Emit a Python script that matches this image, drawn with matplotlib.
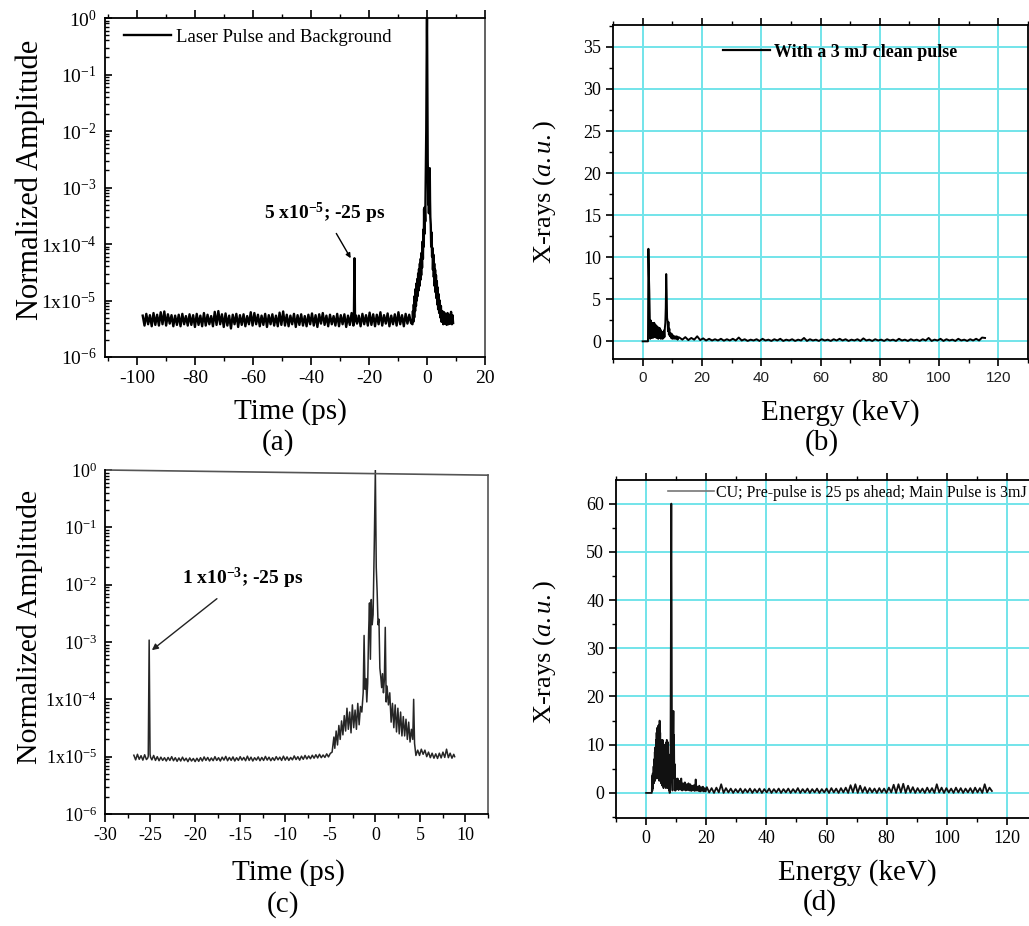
import numpy as np
import matplotlib
matplotlib.use("Agg")
import matplotlib.pyplot as plt
from matplotlib.ticker import FixedLocator, FixedFormatter, MultipleLocator, LogLocator, NullFormatter
from matplotlib.lines import Line2D

plt.rcParams.update({
    "font.family": ["Liberation Serif", "DejaVu Serif"],
    "mathtext.fontset": "custom",
    "mathtext.rm": "Liberation Serif",
    "mathtext.it": "Liberation Serif:italic",
    "mathtext.bf": "Liberation Serif:bold",
    "axes.unicode_minus": False,
})

# ---------------- data ----------------
# (a) laser pulse and background, background in units of 1e-6
a_bg = [
    5.4, 3.6, 5.8, 3.8, 5.5, 3.5, 6.0, 3.7, 5.6, 3.6,
    6.2, 3.8, 6.4, 3.6, 5.7, 3.9, 5.5, 3.5, 5.4, 3.7,
    5.6, 3.5, 5.8, 3.8, 5.3, 3.6, 5.7, 3.7, 5.5, 3.4,
    5.8, 3.7, 5.4, 3.5, 6.0, 3.6, 5.6, 3.8, 5.3, 3.5,
    6.3, 3.7, 6.5, 3.8, 5.7, 3.4, 5.9, 3.6, 5.4, 3.2,
    5.6, 3.8, 5.8, 3.4, 5.5, 3.7, 5.7, 3.5, 5.3, 3.8,
    6.2, 3.6, 6.0, 3.8, 5.6, 3.5, 5.4, 3.7, 5.8, 3.4,
    5.5, 3.8, 5.7, 3.6, 5.4, 3.5, 6.1, 3.7, 6.4, 3.6,
    5.6, 3.5, 5.4, 3.8, 5.8, 3.4, 5.5, 3.7, 5.7, 3.6,
    5.3, 3.5, 5.6, 3.8, 5.9, 3.6, 5.5, 3.4, 5.7, 3.9,
    6.0, 3.7, 5.4, 3.5, 5.6, 3.8, 5.3, 3.6, 5.8, 3.5,
    5.5, 3.8, 5.7, 3.4, 5.4, 3.7, 6.0, 3.6, 5.6, 3.9,
    5.4, 3.5, 5.8, 3.8, 5.5, 3.6, 6.1, 3.7, 5.7, 3.5,
    5.6, 3.8, 6.2, 3.6, 5.5, 3.9, 5.9, 3.5, 5.4, 3.8,
    5.7, 3.6, 6.2, 3.8, 5.5, 3.5, 5.8, 3.9, 5.6, 4.0,
]
a_bg_start, a_bg_end = -98.0, -5.5
a_spike_t = [-25.2, -25.0, -24.8]
a_spike_amp = [4.5e-6, 5.6e-5, 4.3e-6]
a_peak_t = [-5.0, -4.85, -4.7, -4.55, -4.4, -4.25, -4.1, -3.95, -3.8, -3.65,
            -3.5, -3.35, -3.2, -3.05, -2.9, -2.75, -2.6, -2.45, -2.3, -2.15,
            -2.0, -1.85, -1.7, -1.55, -1.4, -1.25, -1.1, -1.0, -0.9, -0.75,
            -0.6, -0.45, -0.35, -0.25, -0.15, -0.05, 0.0, 0.05, 0.15, 0.25,
            0.35, 0.45, 0.55, 0.65, 0.75, 0.85, 0.95, 1.05, 1.15, 1.3,
            1.45, 1.6, 1.75, 1.9, 2.05, 2.2, 2.35, 2.5, 2.65, 2.8,
            2.95, 3.1, 3.25, 3.4, 3.55, 3.7, 3.85, 4.0, 4.2, 4.4,
            4.6, 4.8, 5.0, 5.3, 5.6, 5.9, 6.2, 6.5, 6.8, 7.1,
            7.4, 7.7, 8.0, 8.3, 8.6, 8.8, 9.0]
a_peak_amp = [3.8e-6, 6.5e-6, 4.2e-6, 8.5e-6, 5.0e-6, 1.2e-5, 6.5e-6, 1.6e-5, 8e-6, 2.0e-5,
              1.0e-5, 2.4e-5, 1.2e-5, 3.0e-5, 1.5e-5, 3.6e-5, 1.8e-5, 4.5e-5, 2.3e-5, 5.5e-5,
              2.8e-5, 7e-5, 3.8e-5, 1.1e-4, 5.5e-5, 1.8e-4, 9e-5, 4.2e-4, 1.5e-4, 4.5e-4,
              2.5e-4, 1.2e-3, 2.5e-3, 1.0e-2, 0.1, 0.6, 1.0, 0.45, 3e-2, 3e-3,
              1.5e-3, 5e-4, 9e-4, 3.5e-4, 6e-4, 1.2e-3, 2.2e-3, 6e-4, 3e-4, 2.2e-4,
              9e-5, 1.6e-4, 6e-5, 8.5e-5, 3.5e-5, 6.5e-5, 2.6e-5, 4.5e-5, 1.8e-5, 3.5e-5,
              1.4e-5, 2.8e-5, 1.1e-5, 2.2e-5, 8.5e-6, 1.7e-5, 7e-6, 1.3e-5, 6e-6, 1.0e-5,
              5e-6, 8e-6, 4.2e-6, 6.5e-6, 3.8e-6, 6.2e-6, 3.9e-6, 5.8e-6, 3.7e-6, 6.0e-6,
              3.8e-6, 5.6e-6, 3.9e-6, 6.3e-6, 3.8e-6, 5.5e-6, 4.0e-6]

# (c) pulse with pre-pulse, background in units of 1e-6
c_bg = [
    10.6, 8.8, 11.0, 9.0, 10.4, 8.7, 10.8, 8.9, 10.2, 11.0,
    8.8, 10.5, 8.6, 10.0, 8.5, 9.8, 8.6, 9.6, 8.4, 9.7,
    8.6, 10.0, 8.5, 9.6, 8.3, 9.5, 8.4, 9.8, 8.5, 9.4,
    8.2, 9.5, 8.4, 9.3, 8.2, 9.4, 8.3, 9.6, 8.4, 9.9,
    8.6, 9.7, 8.4, 9.5, 8.5, 10.0, 8.6, 9.6, 8.4, 9.8,
    8.7, 10.1, 8.5, 9.7, 8.6, 9.9, 8.4, 9.6, 8.6, 10.0,
    8.7, 9.7, 8.5, 10.2, 8.6, 9.8, 8.4, 9.6, 8.7, 9.9,
    8.5, 9.7, 8.6, 10.1, 8.7, 9.8, 8.5, 9.6, 8.6, 10.0,
    8.8, 9.8, 8.6, 10.2, 8.7, 9.9, 8.6, 9.7, 8.8, 10.3,
    8.9, 10.0, 8.7, 10.2, 9.0, 10.5, 9.1, 10.3, 9.2, 10.6,
    9.4, 10.8, 9.5, 11.0, 9.6, 10.7, 9.7, 11.2, 9.9, 11.4,
]
c_bg_start, c_bg_end = -26.8, -5.0
c_spike_t = [-25.25, -25.1, -24.95]
c_spike_amp = [9.5e-6, 1.08e-3, 9.8e-6]
c_peak_t = [-4.8, -4.6, -4.5, -4.35, -4.2, -4.05, -3.9, -3.75, -3.6, -3.45,
            -3.3, -3.15, -3.0, -2.85, -2.7, -2.55, -2.4, -2.25, -2.1, -1.95,
            -1.8, -1.65, -1.5, -1.35, -1.25, -1.15, -1.05, -0.95, -0.85, -0.75,
            -0.65, -0.55, -0.45, -0.35, -0.25, -0.12, 0.0, 0.1, 0.2, 0.3,
            0.4, 0.5, 0.6, 0.7, 0.8, 0.9, 1.0, 1.1, 1.2, 1.3,
            1.45, 1.6, 1.75, 1.9, 2.05, 2.2, 2.35, 2.5, 2.65, 2.8,
            2.95, 3.1, 3.25, 3.4, 3.55, 3.7, 3.85, 4.0, 4.15, 4.25,
            4.35, 4.5, 4.7, 4.9, 5.1, 5.3, 5.5, 5.7, 5.9, 6.1,
            6.3, 6.5, 6.7, 6.9, 7.1, 7.3, 7.5, 7.7, 7.9, 8.1,
            8.3, 8.5, 8.7, 8.8]
c_peak_amp = [1.2e-5, 2.2e-5, 1.4e-5, 2.8e-5, 1.6e-5, 3.5e-5, 2.0e-5, 4.2e-5, 2.4e-5, 5.2e-5,
              2.8e-5, 7.0e-5, 3.0e-5, 6.0e-5, 2.6e-5, 8.0e-5, 3.2e-5, 6.5e-5, 3.0e-5, 8.5e-5,
              3.6e-5, 7.5e-5, 6.0e-5, 1.3e-4, 1.3e-3, 1.5e-4, 2.3e-4, 9e-5, 1.9e-4, 1.4e-3,
              4.8e-3, 5e-4, 5.5e-3, 2.0e-3, 3e-3, 0.05, 1.0, 0.02, 7.5e-3, 2.0e-3,
              2.5e-3, 3.5e-4, 2.5e-4, 1.6e-4, 2.8e-4, 1.3e-4, 2.2e-4, 1.8e-3, 9e-5, 1.7e-4,
              8e-5, 1.3e-4, 4.0e-5, 8.5e-5, 3.2e-5, 8.0e-5, 2.7e-5, 7.0e-5, 2.5e-5, 6.0e-5,
              2.3e-5, 5.0e-5, 2.3e-5, 4.5e-5, 2.0e-5, 4.0e-5, 1.8e-5, 3.0e-5, 2.0e-5, 1.0e-4,
              1.7e-5, 1.05e-5, 1.3e-5, 1.05e-5, 1.35e-5, 1.1e-5, 1.3e-5, 1.0e-5, 1.2e-5, 9.6e-6,
              1.15e-5, 9.4e-6, 1.12e-5, 9.3e-6, 1.15e-5, 9.5e-6, 1.2e-5, 9.7e-6, 1.35e-5, 9.6e-6,
              1.15e-5, 9.4e-6, 1.1e-5, 1.0e-5]

# (b) X-ray spectrum, clean pulse
b_head_e = [0.0, 1.8, 1.95, 2.1, 2.25, 2.4, 2.55, 2.7, 2.85, 3.0,
            3.15, 3.3, 3.45, 3.6, 3.75, 3.9, 4.05, 4.2, 4.35, 4.5,
            4.65, 4.8, 4.95, 5.1, 5.25, 5.4, 5.55, 5.7, 5.85, 6.0,
            6.15, 6.3, 6.45, 6.6, 6.75, 6.9, 7.05, 7.2, 7.35, 7.5,
            7.65, 7.8, 7.95, 8.1, 8.25, 8.4, 8.55, 8.7, 8.85, 9.0,
            9.2, 9.4, 9.6, 9.8, 10.0, 10.3, 10.6, 10.9, 11.2, 11.5,
            11.8, 12.1]
b_head_v = [0, 0, 11.0, 8.0, 6.0, 3.0, 0.3, 2.5, 0.4, 2.0,
            0.5, 2.2, 0.4, 2.1, 0.6, 2.2, 0.5, 2.0, 0.6, 1.9,
            0.4, 1.8, 0.5, 1.7, 0.3, 1.6, 0.5, 1.6, 0.4, 1.4,
            0.3, 1.2, 0.5, 1.1, 0.3, 1.0, 0.4, 1.3, 0.5, 1.6,
            2.2, 4.0, 8.0, 6.0, 2.8, 2.4, 1.2, 2.3, 0.8, 1.5,
            0.6, 1.0, 0.4, 0.9, 0.3, 0.7, 0.3, 0.6, 0.3, 0.6,
            0.2, 0.5]
b_tail_start, b_tail_end = 12.4, 115.5
b_tail_v = [
    0.45, 0.2, 0.5, 0.15, 0.4, 0.2, 0.6, 0.15, 0.35, 0.1,
    0.3, 0.1, 0.25, 0.1, 0.3, 0.08, 0.25, 0.1, 0.3, 0.1,
    0.45, 0.1, 0.25, 0.05, 0.2, 0.1, 0.25, 0.05, 0.3, 0.1,
    0.2, 0.05, 0.25, 0.1, 0.3, 0.05, 0.2, 0.1, 0.25, 0.05,
    0.2, 0.1, 0.4, 0.05, 0.25, 0.1, 0.2, 0.05, 0.25, 0.1,
    0.2, 0.05, 0.25, 0.1, 0.3, 0.1, 0.25, 0.05, 0.2, 0.1,
    0.25, 0.05, 0.35, 0.1, 0.2, 0.05, 0.25, 0.1, 0.2, 0.05,
    0.25, 0.1, 0.2, 0.05, 0.3, 0.1, 0.2, 0.05, 0.25, 0.1,
    0.2, 0.05, 0.25, 0.1, 0.4, 0.05, 0.2, 0.1, 0.3, 0.05,
    0.25, 0.1, 0.2, 0.05, 0.3, 0.1, 0.2, 0.05, 0.25, 0.1,
    0.3, 0.1, 0.45, 0.4,
]

# (d) X-ray spectrum, with pre-pulse
d_head_e = [0.0, 1.8, 1.9,
            2.0, 2.1, 2.2, 2.3, 2.4, 2.5, 2.6, 2.7, 2.8, 2.9,
            3.0, 3.1, 3.2, 3.3, 3.4, 3.5, 3.6, 3.7, 3.8, 3.9,
            4.0, 4.1, 4.2, 4.3, 4.4, 4.5, 4.6, 4.7, 4.8, 4.9,
            5.0, 5.1, 5.2, 5.3, 5.4, 5.5, 5.6, 5.7, 5.8, 5.9,
            6.0, 6.1, 6.2, 6.3, 6.4, 6.5, 6.6, 6.7, 6.8, 6.9,
            7.0, 7.1, 7.2, 7.3, 7.4, 7.5, 7.6, 7.7, 7.8, 7.9,
            8.0, 8.1, 8.2, 8.3, 8.4, 8.5, 8.6, 8.7, 8.8, 8.9,
            9.0, 9.1, 9.2, 9.3, 9.4, 9.5, 9.6, 9.7, 9.8, 9.9,
            10.2, 10.5, 10.8, 11.1, 11.4, 11.7, 12.0, 12.3, 12.6, 12.9,
            13.2, 13.5, 13.8, 14.1, 14.4, 14.7, 15.0, 15.3, 15.6, 15.9,
            16.2, 16.5, 16.8, 17.1, 17.4, 17.7, 18.0, 18.3, 18.6, 18.9,
            19.2, 19.5, 19.8]
d_head_v = [0, 0, 0,
            3.5, 0.5, 4.0, 1.0, 3.0, 5.5, 2.0, 7.0, 3.0, 8.5,
            2.5, 9.5, 4.0, 11.0, 3.0, 12.5, 5.0, 13.5, 4.0, 12.0,
            3.0, 14.0, 5.0, 13.0, 2.5, 15.0, 4.0, 12.5, 3.0, 11.0,
            2.0, 10.5, 3.5, 9.5, 1.5, 11.0, 3.0, 9.0, 1.0, 8.5,
            2.5, 10.0, 1.5, 8.0, 2.0, 9.5, 1.0, 10.5, 3.0, 11.0,
            2.0, 9.0, 1.0, 10.5, 2.5, 8.0, 0.5, 6.0, 0.0, 0.0,
            1.0, 4.0, 26.0, 44.0, 60.0, 40.0, 12.0, 3.0, 0.5, 6.0,
            13.0, 17.0, 8.0, 12.0, 3.0, 6.0, 0.5, 3.0, 0.5, 3.0,
            0.8, 3.0, 0.6, 2.5, 0.7, 3.0, 0.5, 2.0, 0.6, 2.2,
            0.5, 1.8, 0.6, 2.0, 0.5, 1.8, 0.4, 1.5, 0.5, 1.6,
            0.4, 2.8, 0.5, 1.3, 0.4, 1.5, 0.3, 1.2, 0.4, 1.3,
            0.3, 1.0, 0.3]
d_tail_start, d_tail_end = 20.2, 115.0
d_tail_v = [
    1.2, 0.1, 1.0, 0.0, 1.1, 0.1, 1.8, 0.0, 1.0, 0.1,
    0.9, 0.0, 0.8, 0.1, 0.9, 0.0, 0.8, 0.1, 0.9, 0.0,
    0.8, 0.1, 0.9, 0.0, 0.8, 0.1, 0.9, 0.0, 0.8, 0.1,
    0.9, 0.0, 0.8, 0.1, 0.9, 0.0, 0.8, 0.1, 1.0, 0.0,
    0.8, 0.1, 0.9, 0.0, 0.8, 0.1, 0.9, 0.0, 0.8, 0.1,
    0.9, 0.0, 1.0, 0.1, 0.9, 0.0, 1.0, 0.1, 1.1, 0.0,
    1.6, 0.1, 1.8, 0.0, 1.5, 0.1, 1.2, 0.0, 1.0, 0.1,
    0.9, 0.0, 1.0, 0.1, 0.9, 0.0, 1.1, 0.1, 1.7, 0.0,
    1.8, 0.1, 1.9, 0.0, 1.5, 0.1, 1.2, 0.0, 1.0, 0.1,
    0.9, 0.0, 1.1, 0.1, 1.0, 0.0, 1.8, 0.1, 1.1, 0.0,
    1.0, 0.1, 0.9, 0.0, 1.1, 0.1, 1.0, 0.0, 0.9, 0.1,
    1.0, 0.0, 1.1, 0.1, 1.0, 0.0, 1.8, 0.1, 1.1, 0.4,
]

log_ticks = [1e-6, 1e-5, 1e-4, 1e-3, 1e-2, 1e-1, 1e0]
log_tick_labels = [r"10$^{-6}$", r"1x10$^{-5}$", r"1x10$^{-4}$", r"10$^{-3}$",
                   r"10$^{-2}$", r"10$^{-1}$", r"10$^{0}$"]
a_xticks = [-100, -80, -60, -40, -20, 0, 20]
c_xticks = [-30, -25, -20, -15, -10, -5, 0, 5, 10]
b_yticks = [0, 5, 10, 15, 20, 25, 30, 35]
d_yticks = [0, 10, 20, 30, 40, 50, 60]
e_xticks = [0, 20, 40, 60, 80, 100, 120]

# ---------------- assemble series ----------------
def assemble(parts_t, parts_v):
    t = np.concatenate([np.asarray(p, float) for p in parts_t])
    v = np.concatenate([np.asarray(p, float) for p in parts_v])
    o = np.argsort(t, kind="stable")
    return t[o], v[o]

ta, ya = assemble([np.linspace(a_bg_start, a_bg_end, len(a_bg)), a_spike_t, a_peak_t],
                  [np.array(a_bg) * 1e-6, a_spike_amp, a_peak_amp])
tc, yc = assemble([np.linspace(c_bg_start, c_bg_end, len(c_bg)), c_spike_t, c_peak_t],
                  [np.array(c_bg) * 1e-6, c_spike_amp, c_peak_amp])
eb = np.concatenate([b_head_e, np.linspace(b_tail_start, b_tail_end, len(b_tail_v))])
vb = np.concatenate([b_head_v, b_tail_v])
ed = np.concatenate([d_head_e, np.linspace(d_tail_start, d_tail_end, len(d_tail_v))])
vd = np.concatenate([d_head_v, d_tail_v])

# ---------------- figure ----------------
W, H = 1029, 926
fig = plt.figure(figsize=(W / 100, H / 100), dpi=100)

def rect(l, t, r, b):
    return [l / W, 1 - b / H, (r - l) / W, (b - t) / H]

def ftext(x, y, s, **kw):
    fig.text(x / W, 1 - y / H, s, ha="center", va="center", **kw)

GRID = "#72e4ea"

def log_axis(ax, tick_size):
    ax.set_yscale("log")
    ax.set_ylim(1e-6, 1.0)
    ax.yaxis.set_major_locator(FixedLocator(log_ticks))
    ax.yaxis.set_major_formatter(FixedFormatter(log_tick_labels))
    ax.yaxis.set_minor_locator(LogLocator(base=10, subs=np.arange(2, 10)))
    ax.yaxis.set_minor_formatter(NullFormatter())
    ax.tick_params(axis="y", which="both", direction="in", labelsize=tick_size, pad=6)
    ax.tick_params(axis="y", which="major", length=5, width=1.2)
    ax.tick_params(axis="y", which="minor", length=3, width=1.0)

# ---- (a) ----
ax = fig.add_axes(rect(105, 18, 485, 357))
ax.plot(ta, ya, color="black", lw=1.7, label="Laser Pulse and Background")
log_axis(ax, 14)
ax.set_xlim(-111, 20)
ax.xaxis.set_major_locator(FixedLocator(a_xticks))
ax.xaxis.set_minor_locator(MultipleLocator(10))
ax.tick_params(axis="x", which="both", direction="out", top=True, labelsize=14)
ax.tick_params(axis="x", which="major", length=6, width=1.2)
ax.tick_params(axis="x", which="minor", length=3, width=1.0)
for s in ax.spines.values():
    s.set_linewidth(1.3)
ax.spines["right"].set_color("#555555")
ax.legend(loc="center left", bbox_to_anchor=(0.05, 0.944), frameon=False,
          handlelength=2.5, handletextpad=0.3, borderaxespad=0, borderpad=0,
          prop={"size": 13.5})
ax.annotate(r"5 x10$^{\mathbf{-5}}$; -25 ps", xy=(-26.3, 5.6e-5), xytext=(-35.3, 3.5e-4),
            ha="center", va="center", fontsize=14, fontweight="bold",
            arrowprops=dict(arrowstyle="-|>", color="black", lw=1.0,
                            shrinkA=4, shrinkB=0, mutation_scale=7))
ftext(30, 180, "Normalized Amplitude", fontsize=22, rotation=90)
ftext(290, 412, "Time (ps)", fontsize=21)
ftext(278, 443, "(a)", fontsize=21)

# ---- (b) ----
ax = fig.add_axes(rect(613, 25, 1028, 359))
ax.plot(eb, vb, color="black", lw=1.4)
ax.set_xlim(-10, 130)
ax.set_ylim(-2.1, 37.6)
ax.xaxis.set_major_locator(FixedLocator(e_xticks))
ax.xaxis.set_minor_locator(MultipleLocator(10))
ax.yaxis.set_major_locator(FixedLocator(b_yticks))
ax.yaxis.set_minor_locator(MultipleLocator(2.5))
ax.set_axisbelow(True)
ax.grid(True, which="major", color=GRID, lw=1.4)
ax.tick_params(which="both", direction="out", top=True)
ax.tick_params(which="major", length=5, width=1.2)
ax.tick_params(which="minor", length=3, width=1.0)
ax.tick_params(axis="y", labelsize=13)
ax.tick_params(axis="x", labelsize=11, labelcolor="#222222")
for lab in ax.get_xticklabels():
    lab.set_fontfamily("Liberation Sans")
for s in ax.spines.values():
    s.set_linewidth(1.3)
ax.legend(handles=[Line2D([], [], color="black", lw=1.6)], labels=["With a 3 mJ clean pulse"],
          loc="center left", bbox_to_anchor=(0.265, 0.919), frameon=False,
          handlelength=2.6, handletextpad=0.25, borderaxespad=0, borderpad=0,
          prop={"size": 13, "weight": "bold"})
ftext(545, 192, r"X-rays ($a.u.$)", fontsize=19, rotation=90)
ftext(840, 413, "Energy (keV)", fontsize=21)
ftext(822, 443, "(b)", fontsize=21)

# ---- (c) ----
ax = fig.add_axes(rect(105, 470, 488, 814))
ax.plot(tc, yc, color="#262626", lw=1.1)
log_axis(ax, 13)
ax.set_xlim(-30, 12.5)
ax.xaxis.set_major_locator(FixedLocator(c_xticks))
ax.xaxis.set_minor_locator(MultipleLocator(2.5))
ax.tick_params(axis="x", which="both", direction="out", labelsize=13)
ax.tick_params(axis="x", which="major", length=6, width=1.2)
ax.tick_params(axis="x", which="minor", length=3, width=1.0)
ax.spines["top"].set_visible(False)
ax.spines["right"].set_visible(False)
ax.spines["left"].set_linewidth(1.3)
ax.spines["bottom"].set_linewidth(1.3)
ax.plot([0, 1], [1, 0.985], transform=ax.transAxes, color="#555555", lw=1.2, clip_on=False)
ax.plot([1, 1], [0, 0.985], transform=ax.transAxes, color="#555555", lw=1.2, clip_on=False)
ax.annotate(r"1 x10$^{\mathbf{-3}}$; -25 ps", xy=(-24.8, 7.2e-4), xytext=(-14.7, 1.3e-2),
            ha="center", va="center", fontsize=14, fontweight="bold",
            arrowprops=dict(arrowstyle="-|>", color="#222222", lw=1.0,
                            shrinkA=6, shrinkB=0, mutation_scale=9))
ftext(30, 627, "Normalized Amplitude", fontsize=21.5, rotation=90)
ftext(288, 873, "Time (ps)", fontsize=21)
ftext(283, 905, "(c)", fontsize=21)

# ---- (d) ----
ax = fig.add_axes(rect(616, 480, 1037, 818))
ax.plot(ed, vd, color="#111111", lw=1.3)
ax.set_xlim(-10, 130)
ax.set_ylim(-5.2, 64.9)
ax.xaxis.set_major_locator(FixedLocator(e_xticks))
ax.xaxis.set_minor_locator(MultipleLocator(10))
ax.yaxis.set_major_locator(FixedLocator(d_yticks))
ax.yaxis.set_minor_locator(MultipleLocator(5))
ax.set_axisbelow(True)
ax.grid(True, which="major", color=GRID, lw=1.4)
ax.tick_params(which="both", direction="out", top=True, labelsize=13)
ax.tick_params(which="major", length=5, width=1.2)
ax.tick_params(which="minor", length=3, width=1.0)
for s in ax.spines.values():
    s.set_linewidth(1.3)
ax.legend(handles=[Line2D([], [], color="#777777", lw=1.2)],
          labels=["CU; Pre-pulse is 25 ps ahead; Main Pulse is 3mJ"],
          loc="center left", bbox_to_anchor=(0.1235, 0.962), frameon=False,
          handlelength=2.9, handletextpad=0.1, borderaxespad=0, borderpad=0,
          prop={"size": 11.5})
ftext(545, 652, r"X-rays ($a.u.$)", fontsize=19, rotation=90)
ftext(857, 873, "Energy (keV)", fontsize=21)
ftext(820, 903, "(d)", fontsize=21)

fig.savefig("out.png", dpi=100, facecolor="white")
